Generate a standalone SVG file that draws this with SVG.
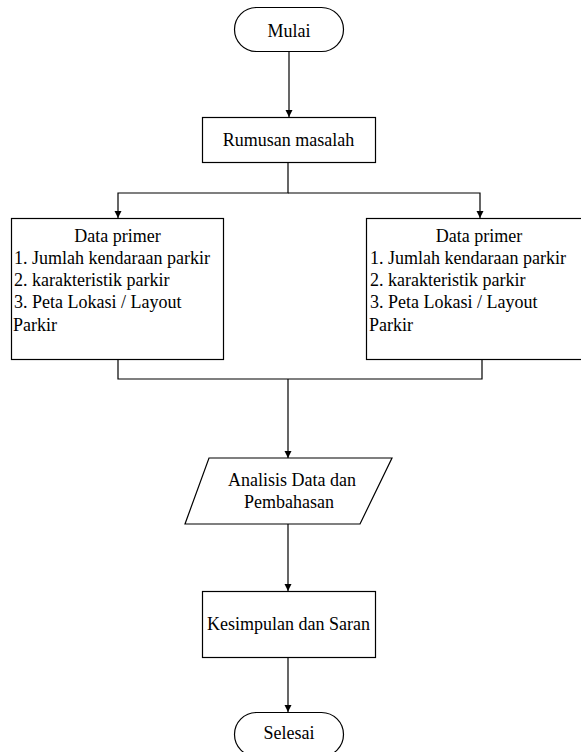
<svg xmlns="http://www.w3.org/2000/svg" width="581" height="752" viewBox="0 0 581 752">
<style>
.s{fill:#fff;stroke:#000;stroke-width:1.2}
.c{fill:none;stroke:#000;stroke-width:1.2}
.t{font-family:'Liberation Serif',Tinos,'Times New Roman',serif;font-size:18px;fill:#000}
.m{text-anchor:middle}
</style>
<defs>
<marker id="a" viewBox="0 0 10 10" refX="10" refY="5" markerWidth="7" markerHeight="9" markerUnits="userSpaceOnUse" orient="auto">
<path d="M0,0 L10,5 L0,10 Z" fill="#000"/>
</marker>
</defs>
<rect width="581" height="752" fill="#fff"/>
<g id="connectors">
<path class="c" d="M289,51 V117" marker-end="url(#a)"/>
<path class="c" d="M288,162 V193 H118 V218" marker-end="url(#a)"/>
<path class="c" d="M288,193 H480 V218" marker-end="url(#a)"/>
<path class="c" d="M118,359 V379 H482 V359"/>
<path class="c" d="M288,379 V458" marker-end="url(#a)"/>
<path class="c" d="M288,524 V591" marker-end="url(#a)"/>
<path class="c" d="M288,657 V712" marker-end="url(#a)"/>
</g>
<g class="t">
<g id="mulai">
<rect class="s" x="234.5" y="7.5" width="109" height="44" rx="22" ry="22"/>
<text class="m" x="289" y="37">Mulai</text>
</g>
<g id="rumusan">
<rect class="s" x="202.5" y="117.5" width="173" height="45"/>
<text class="m" x="288.5" y="146">Rumusan masalah</text>
</g>
<g id="data-primer-1">
<rect class="s" x="11.5" y="218.5" width="212" height="141"/>
<text class="m" x="117.5" y="242">Data primer</text>
<text x="14" y="264">1. Jumlah kendaraan parkir</text>
<text x="14" y="286">2. karakteristik parkir</text>
<text x="14" y="308">3. Peta Lokasi / Layout</text>
<text x="13" y="331">Parkir</text>
</g>
<g id="data-primer-2">
<rect class="s" x="366.5" y="218.5" width="226" height="141"/>
<text class="m" x="479" y="242">Data primer</text>
<text x="370" y="264">1. Jumlah kendaraan parkir</text>
<text x="370" y="286">2. karakteristik parkir</text>
<text x="370" y="308">3. Peta Lokasi / Layout</text>
<text x="369" y="331">Parkir</text>
</g>
<g id="analisis">
<polygon class="s" points="209,458 392,458 360,524 185,524"/>
<text class="m" x="292" y="486">Analisis Data dan</text>
<text class="m" x="289" y="508">Pembahasan</text>
</g>
<g id="kesimpulan">
<rect class="s" x="202.5" y="591.5" width="173" height="66"/>
<text class="m" x="288.5" y="630">Kesimpulan dan Saran</text>
</g>
<g id="selesai">
<rect class="s" x="234.5" y="712.5" width="109" height="44" rx="22" ry="22"/>
<text class="m" x="289" y="739">Selesai</text>
</g>
</g>
</svg>
